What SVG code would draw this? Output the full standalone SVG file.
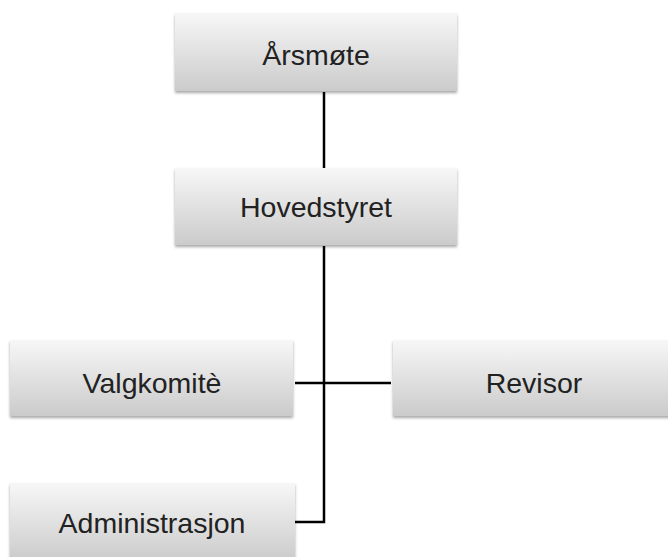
<svg xmlns="http://www.w3.org/2000/svg" width="668" height="557" viewBox="0 0 668 557">
  <defs>
    <linearGradient id="boxGrad" x1="0" y1="0" x2="0" y2="1">
      <stop offset="0" stop-color="#f7f7f7"/>
      <stop offset="1" stop-color="#cbcbcb"/>
    </linearGradient>
    <filter id="shadow" x="-5%" y="-10%" width="110%" height="125%">
      <feGaussianBlur in="SourceAlpha" stdDeviation="1.5"/>
      <feOffset dx="0" dy="2" result="b"/>
      <feComponentTransfer><feFuncA type="linear" slope="0.35"/></feComponentTransfer>
      <feMerge><feMergeNode/><feMergeNode in="SourceGraphic"/></feMerge>
    </filter>
    <style>
      .box { fill: url(#boxGrad); filter: url(#shadow); }
      .lbl { font-family: "Liberation Sans", Arial, Helvetica, sans-serif; font-size: 28.5px; fill: #222; text-anchor: middle; }
      .conn { stroke: #000; stroke-width: 2.5; fill: none; }
    </style>
  </defs>
  <rect width="668" height="557" fill="#fff"/>
  <g id="connectors">
    <line class="conn" x1="324" y1="92" x2="324" y2="168"/>
    <polyline class="conn" points="324,246 324,522 295,522"/>
    <line class="conn" x1="295" y1="383" x2="391" y2="383"/>
  </g>
  <g id="arsmote">
    <rect class="box" x="175" y="13" width="282" height="78"/>
    <text class="lbl" x="316" y="65">Årsmøte</text>
  </g>
  <g id="hovedstyret">
    <rect class="box" x="175" y="168" width="282" height="77"/>
    <text class="lbl" x="316" y="217">Hovedstyret</text>
  </g>
  <g id="valgkomite">
    <rect class="box" x="10" y="340" width="283" height="76"/>
    <text class="lbl" x="152" y="393">Valgkomitè</text>
  </g>
  <g id="revisor">
    <rect class="box" x="393" y="340" width="282" height="76"/>
    <text class="lbl" x="534" y="393">Revisor</text>
  </g>
  <g id="administrasjon">
    <rect class="box" x="10" y="483" width="285" height="78"/>
    <text class="lbl" x="152" y="533">Administrasjon</text>
  </g>
</svg>
